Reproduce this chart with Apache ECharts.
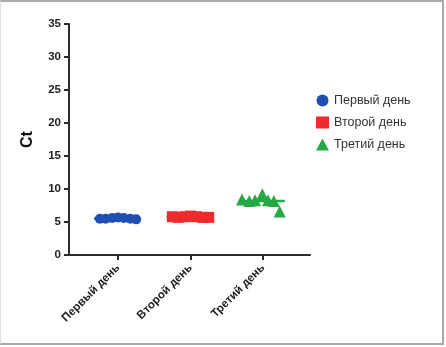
<!DOCTYPE html>
<html><head><meta charset="utf-8">
<script src="https://cdn.jsdelivr.net/npm/echarts@6/dist/echarts.min.js"></script>
<style>
html,body{margin:0;padding:0;background:#fff;}
#c{position:absolute;left:0;top:0;width:446px;height:347px;}
#f{position:absolute;left:0;top:0;width:444px;height:345px;border-top:2px solid #aaa;border-right:2px solid #aaa;border-bottom:2px solid #aaa;border-left:1px solid #ddd;box-sizing:border-box;pointer-events:none;}
</style></head>
<body><div id="c"></div><div id="f"></div>
<script>
const categories = ['Первый день', 'Второй день', 'Третий день'];
const yTicks = [0, 5, 10, 15, 20, 25, 30, 35];
const day1 = [5.5, 5.5, 5.6, 5.7, 5.6, 5.5, 5.4];
const day2 = [5.8, 5.7, 5.8, 5.9, 5.8, 5.7, 5.7];
const day3 = [8.4, 8.2, 8.3, 9.2, 8.3, 8.2, 6.6];
const jitter1 = [-0.25, -0.17, -0.08, 0, 0.08, 0.17, 0.25];
const jitter2 = [-0.25, -0.17, -0.08, 0, 0.08, 0.17, 0.25];
const jitter3 = [-0.29, -0.19, -0.11, -0.01, 0.07, 0.15, 0.23];
const colors = ['#1f4fb4', '#ee2a2f', '#26a844'];

const groups = [day1, day2, day3];
const jitters = [jitter1, jitter2, jitter3];
const symbols = ['circle', 'rect', 'triangle'];
const sizes = [10, 11, 12];
const mean = a => a.reduce((s, v) => s + v, 0) / a.length;

const series = [];
groups.forEach((g, i) => {
  series.push({
    type: 'line', silent: true, showSymbol: false, z: 1,
    lineStyle: {color: colors[i], width: 2.5},
    data: [[i - 0.33, mean(g)], [i + 0.3, mean(g)]]
  });
});
groups.forEach((g, i) => {
  series.push({
    name: categories[i], type: 'scatter', symbol: symbols[i], symbolSize: sizes[i], z: 3,
    itemStyle: {color: colors[i], opacity: 1},
    data: g.map((v, k) => [i + jitters[i][k], v])
  });
});

const chart = echarts.init(document.getElementById('c'));
chart.setOption({
  animation: false,
  grid: {left: 69, right: 136, top: 24, bottom: 92},
  legend: {
    orient: 'vertical', left: 311, top: 89, itemGap: 9, itemWidth: 13, itemHeight: 12,
    data: categories.map((c, i) => ({name: c, icon: symbols[i]})),
    textStyle: {fontFamily: 'Liberation Sans', fontSize: 12.5, color: '#333'}
  },
  xAxis: {
    type: 'value', min: -0.676, max: 2.648,
    splitLine: {show: false},
    axisLine: {onZero: false, lineStyle: {color: '#2b2b2b', width: 2}},
    axisTick: {show: true, customValues: [0, 1, 2], length: 5, lineStyle: {color: '#2b2b2b', width: 2}},
    axisLabel: {
      customValues: [0, 1, 2], rotate: 45, margin: 11,
      formatter: v => categories[Math.round(v)] || '',
      fontFamily: 'Liberation Sans', fontWeight: 'bold', fontSize: 11.5, color: '#222'
    }
  },
  yAxis: {
    type: 'value', min: 0, max: 35, interval: 5,
    name: 'Ct', nameLocation: 'middle', nameGap: 33,
    nameTextStyle: {fontFamily: 'Liberation Sans', fontWeight: 'bold', fontSize: 16, color: '#111'},
    splitLine: {show: false},
    axisLine: {show: true, onZero: false, lineStyle: {color: '#2b2b2b', width: 2}},
    axisTick: {show: true, length: 5, lineStyle: {color: '#2b2b2b', width: 2}},
    axisLabel: {
      margin: 8, fontFamily: 'Liberation Sans', fontWeight: 'bold', fontSize: 11.5, color: '#222',
      formatter: v => yTicks.includes(v) ? String(v) : ''
    }
  },
  series: series
});
</script></body></html>
